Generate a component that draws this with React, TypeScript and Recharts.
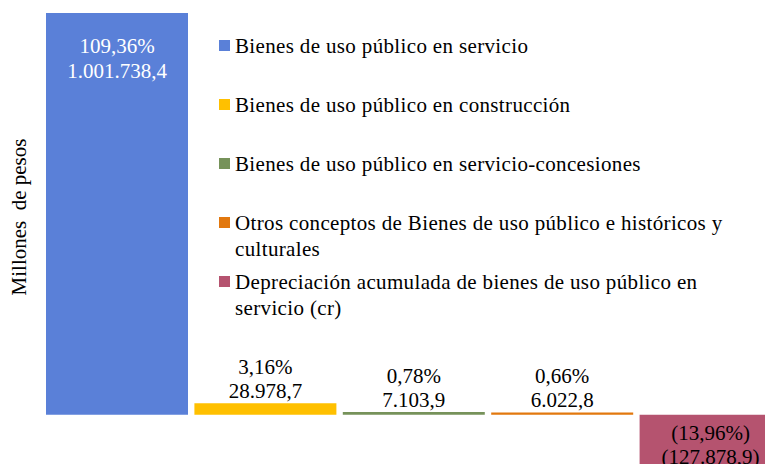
import React from "react";
import { BarChart, Bar, XAxis, YAxis, Cell, LabelList, Legend } from "recharts";

const categories = [
  "Bienes de uso público en servicio",
  "Bienes de uso público en construcción",
  "Bienes de uso público en servicio-concesiones",
  "Otros conceptos de Bienes de uso público e históricos y culturales",
  "Depreciación acumulada de bienes de uso público en servicio (cr)",
];
const values = [1001738.4, 28978.7, 7103.9, 6022.8, -127878.9];
const percents = [109.36, 3.16, 0.78, 0.66, -13.96];
const colors = ["#5A80D8", "#FFC000", "#76925A", "#E2780E", "#B5536F"];
const yLabel = "Millones  de pesos";

const FONT = '"Liberation Serif", "Times New Roman", serif';

const data = categories.map((name, i) => ({
  name,
  value: values[i],
  pct: percents[i],
}));

function groupThousands(s: string) {
  return s.replace(/\B(?=(\d{3})+(?!\d))/g, ".");
}
function fmtValue(v: number) {
  const abs = Math.abs(v);
  const [ip, dp] = abs.toFixed(1).split(".");
  const s = groupThousands(ip) + "," + dp;
  return v < 0 ? "(" + s + ")" : s;
}
function fmtPct(p: number) {
  const abs = Math.abs(p);
  const [ip, dp] = abs.toFixed(2).split(".");
  const s = ip + "," + dp + "%";
  return p < 0 ? "(" + s + ")" : s;
}

const BarLabel = (props: any) => {
  const { x, y, width, height, index } = props;
  const v = values[index];
  const p = percents[index];
  const top = Math.min(y, y + height);
  const h = Math.abs(height);
  const cx = x + width / 2;
  let y1: number;
  let y2: number;
  let fill = "#000";
  if (v >= 0 && h > 80) {
    y1 = top + 33;
    y2 = top + 58;
    fill = "#FFFFFF";
  } else if (v >= 0) {
    y1 = top - 36;
    y2 = top - 12;
  } else {
    y1 = top + 18;
    y2 = top + 42;
  }
  return (
    <g>
      <text x={cx} y={y1} textAnchor="middle" dominantBaseline="central" fontFamily={FONT} fontSize={21} fill={fill}>
        {fmtPct(p)}
      </text>
      <text x={cx} y={y2} textAnchor="middle" dominantBaseline="central" fontFamily={FONT} fontSize={21} fill={fill}>
        {fmtValue(v)}
      </text>
    </g>
  );
};

const renderLegend = () => (
  <div style={{ fontFamily: FONT, fontSize: 21, letterSpacing: 0.35, color: "#000" }}>
    {categories.map((c, i) => (
      <div key={c} style={{ display: "flex", alignItems: "flex-start", height: 59 }}>
        <div
          style={{
            width: 11,
            height: 11,
            background: colors[i],
            marginTop: 7,
            marginRight: 5,
            flex: "0 0 auto",
          }}
        />
        <div style={{ lineHeight: "26px", width: 505 }}>{c}</div>
      </div>
    ))}
  </div>
);

const YLabelContent = () => (
  <text
    x={19}
    y={217}
    transform="rotate(-90 19 217)"
    textAnchor="middle"
    dominantBaseline="central"
    fontFamily={FONT}
    fontSize={21}
    fill="#000"
    style={{ whiteSpace: "pre" }}
  >
    {yLabel}
  </text>
);

export default function App() {
  return (
    <div
      style={{
        position: "fixed",
        left: 0,
        top: 0,
        width: 765,
        height: 464,
        overflow: "hidden",
        background: "#fff",
      }}
    >
      <BarChart
        width={785}
        height={480}
        data={data}
        margin={{ top: 13, right: 0, bottom: 1, left: 0 }}
        barCategoryGap={3}
      >
        <XAxis dataKey="name" hide />
        <YAxis
          width={43}
          domain={[-160000, 1001738.4]}
          axisLine={false}
          tickLine={false}
          tick={false}
          label={{ content: <YLabelContent /> }}
        />
        <Legend
          layout="vertical"
          align="center"
          verticalAlign="middle"
          content={renderLegend}
          wrapperStyle={{ position: "absolute", left: 219, top: 33, width: 546, height: "auto" }}
        />
        <Bar dataKey="value" isAnimationActive={false}>
          {data.map((d, i) => (
            <Cell key={d.name} fill={colors[i]} />
          ))}
          <LabelList dataKey="value" content={<BarLabel />} />
        </Bar>
      </BarChart>
    </div>
  );
}
